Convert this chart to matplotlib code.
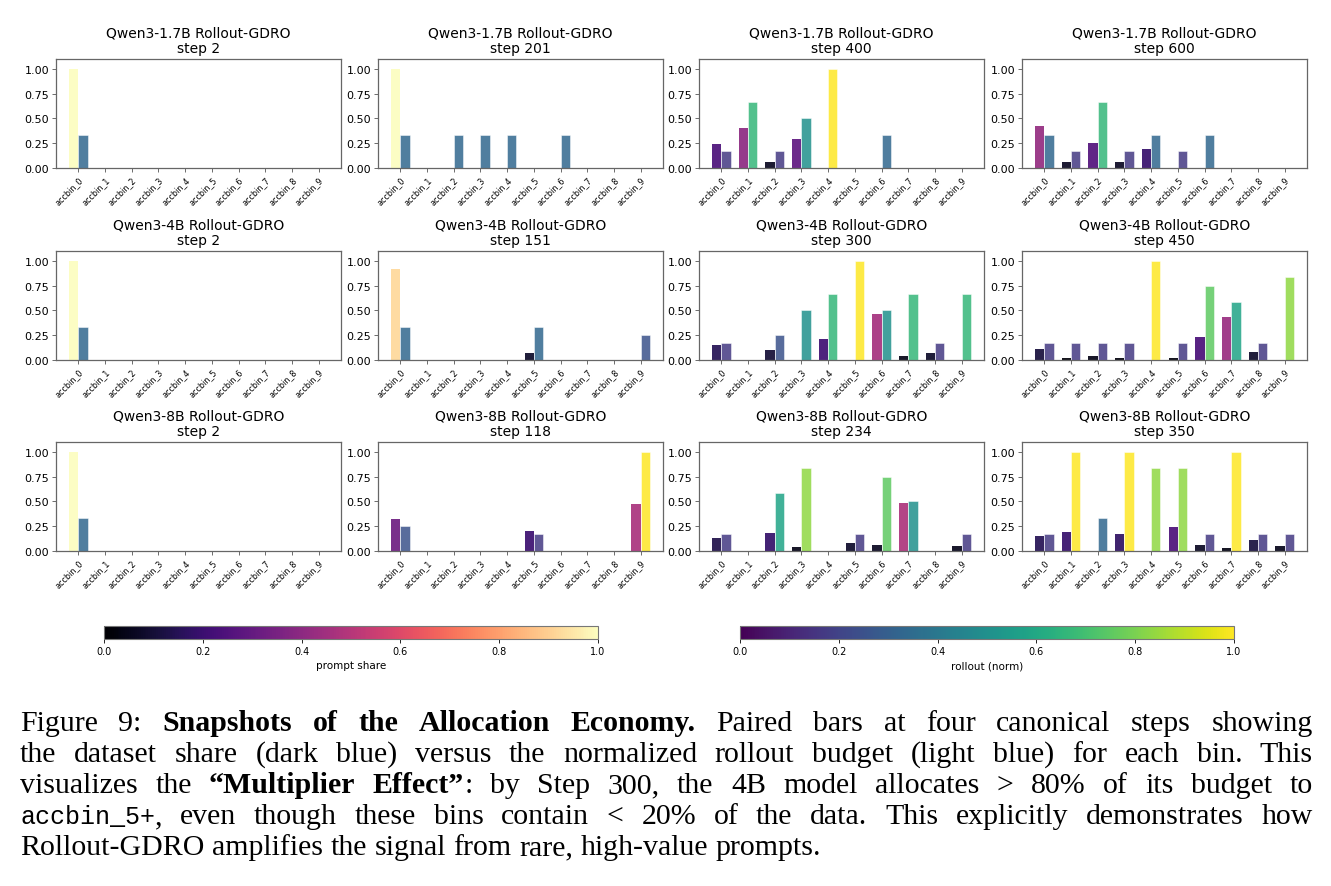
import numpy as np
import matplotlib
matplotlib.use("Agg")
import matplotlib.pyplot as plt
from matplotlib import cm
from matplotlib.colors import Normalize

# ---------------- data ----------------
bins = [f"accbin_{i}" for i in range(10)]
models = ["Qwen3-1.7B", "Qwen3-4B", "Qwen3-8B"]
steps = [[2, 201, 400, 600], [2, 151, 300, 450], [2, 118, 234, 350]]

prompt_17b_s2 = [1.0, 0, 0, 0, 0, 0, 0, 0, 0, 0]
rollout_17b_s2 = [0.333, 0, 0, 0, 0, 0, 0, 0, 0, 0]
prompt_17b_s201 = [1.0, 0, 0, 0, 0, 0, 0.005, 0, 0, 0]
rollout_17b_s201 = [0.333, 0, 0.333, 0.333, 0.333, 0, 0.333, 0, 0, 0]
prompt_17b_s400 = [0.24, 0.40, 0.06, 0.29, 0.005, 0, 0.005, 0, 0, 0]
rollout_17b_s400 = [0.167, 0.667, 0.167, 0.5, 1.0, 0, 0.333, 0, 0, 0]
prompt_17b_s600 = [0.42, 0.065, 0.255, 0.065, 0.19, 0, 0.005, 0, 0, 0]
rollout_17b_s600 = [0.333, 0.167, 0.667, 0.167, 0.333, 0.167, 0.333, 0, 0, 0]

prompt_4b_s2 = [1.0, 0, 0, 0, 0, 0, 0, 0, 0, 0]
rollout_4b_s2 = [0.333, 0, 0, 0, 0, 0, 0, 0, 0, 0]
prompt_4b_s151 = [0.92, 0, 0, 0, 0, 0.075, 0, 0, 0, 0.005]
rollout_4b_s151 = [0.333, 0, 0, 0, 0, 0.333, 0, 0, 0, 0.25]
prompt_4b_s300 = [0.15, 0, 0.10, 0.005, 0.21, 0.005, 0.46, 0.045, 0.075, 0.003]
rollout_4b_s300 = [0.167, 0, 0.25, 0.5, 0.667, 1.0, 0.5, 0.667, 0.167, 0.667]
prompt_4b_s450 = [0.11, 0.02, 0.04, 0.025, 0.005, 0.025, 0.235, 0.43, 0.08, 0.005]
rollout_4b_s450 = [0.167, 0.167, 0.167, 0.167, 1.0, 0.167, 0.75, 0.583, 0.167, 0.833]

prompt_8b_s2 = [1.0, 0, 0, 0, 0, 0, 0, 0, 0, 0]
rollout_8b_s2 = [0.333, 0, 0, 0, 0, 0, 0, 0, 0, 0]
prompt_8b_s118 = [0.325, 0, 0, 0, 0, 0.2, 0, 0, 0, 0.47]
rollout_8b_s118 = [0.25, 0, 0, 0, 0, 0.167, 0, 0, 0, 1.0]
prompt_8b_s234 = [0.135, 0, 0.185, 0.04, 0, 0.08, 0.06, 0.48, 0, 0.05]
rollout_8b_s234 = [0.167, 0, 0.583, 0.833, 0, 0.167, 0.75, 0.5, 0, 0.167]
prompt_8b_s350 = [0.15, 0.19, 0, 0.175, 0.005, 0.24, 0.065, 0.035, 0.115, 0.05]
rollout_8b_s350 = [0.167, 1.0, 0.333, 1.0, 0.833, 0.833, 0.167, 1.0, 0.167, 0.167]

prompt_grid = [
    [prompt_17b_s2, prompt_17b_s201, prompt_17b_s400, prompt_17b_s600],
    [prompt_4b_s2, prompt_4b_s151, prompt_4b_s300, prompt_4b_s450],
    [prompt_8b_s2, prompt_8b_s118, prompt_8b_s234, prompt_8b_s350],
]
rollout_grid = [
    [rollout_17b_s2, rollout_17b_s201, rollout_17b_s400, rollout_17b_s600],
    [rollout_4b_s2, rollout_4b_s151, rollout_4b_s300, rollout_4b_s450],
    [rollout_8b_s2, rollout_8b_s118, rollout_8b_s234, rollout_8b_s350],
]

# ---------------- figure ----------------
W, H = 1331, 887
fig = plt.figure(figsize=(W / 100, H / 100), dpi=100)
fig.patch.set_facecolor("white")

lefts = [56, 378, 699, 1022]
tops = [60, 252, 443]
aw, ah = 285, 109
magma = plt.get_cmap("magma")
viridis = plt.get_cmap("viridis")
x = np.arange(len(bins))
bw = 0.35

for r in range(3):
    for c in range(4):
        ax = fig.add_axes([lefts[c] / W, 1 - (tops[r] + ah) / H, aw / W, ah / H])
        p = np.array(prompt_grid[r][c])
        ro = np.array(rollout_grid[r][c])
        ax.bar(x - bw / 2, p, width=bw, color=magma(p), alpha=0.92)
        ax.bar(x + bw / 2, ro, width=bw, color=viridis(ro), alpha=0.85,
               edgecolor="white", linewidth=0.4)
        ax.set_ylim(0, 1.1)
        ax.set_yticks([0, 0.25, 0.5, 0.75, 1.0])
        ax.set_yticklabels(["0.00", "0.25", "0.50", "0.75", "1.00"], fontsize=8)
        ax.set_xticks(x)
        ax.set_xticklabels(bins, rotation=45, ha="right", fontsize=5.8,
                           rotation_mode="anchor")
        ax.tick_params(axis="x", length=3, width=0.6, pad=2, color="#555555")
        ax.tick_params(axis="y", length=3, width=0.6, pad=2, color="#555555")
        for s in ax.spines.values():
            s.set_color("#666666")
            s.set_linewidth(0.9)
        ax.set_title(f"{models[r]} Rollout-GDRO\nstep {steps[r][c]}",
                     fontsize=10, pad=5, linespacing=1.1)

# colorbars
norm = Normalize(0, 1)
cax1 = fig.add_axes([104 / W, 1 - 640 / H, 494 / W, 13 / H])
cb1 = fig.colorbar(cm.ScalarMappable(norm=norm, cmap=magma), cax=cax1,
                   orientation="horizontal")
cb1.set_label("prompt share", fontsize=7.5, labelpad=3)
cax2 = fig.add_axes([740 / W, 1 - 640 / H, 494 / W, 13 / H])
cb2 = fig.colorbar(cm.ScalarMappable(norm=norm, cmap=viridis), cax=cax2,
                   orientation="horizontal")
cb2.set_label("rollout (norm)", fontsize=7.5, labelpad=3)
for cb in (cb1, cb2):
    cb.set_ticks([0, 0.2, 0.4, 0.6, 0.8, 1.0])
    cb.ax.tick_params(labelsize=7, length=3, width=0.6, pad=2)
    cb.outline.set_edgecolor("#777777")
    cb.outline.set_linewidth(0.8)

# ---------------- caption (justified) ----------------
SERIF = "Liberation Serif"
MONO = "Liberation Mono"

cap_lines = [
    [[("Figure", "r")], [("9:", "r")], [("Snapshots", "b")], [("of", "b")], [("the", "b")],
     [("Allocation", "b")], [("Economy.", "b")], [("Paired", "r")], [("bars", "r")], [("at", "r")],
     [("four", "r")], [("canonical", "r")], [("steps", "r")], [("showing", "r")]],
    [[(w, "r")] for w in "the dataset share (dark blue) versus the normalized rollout budget (light blue) for each bin. This".split()],
    [[("visualizes", "r")], [("the", "r")], [("\u201cMultiplier", "b")],
     [("Effect\u201d", "b"), (":", "r")]] +
    [[(w, "r")] for w in "by Step 300, the 4B model allocates > 80% of its budget to".split()],
    [[("accbin_5+", "t"), (",", "r")]] +
    [[(w, "r")] for w in "even though these bins contain < 20% of the data. This explicitly demonstrates how".split()],
    [[(w, "r")] for w in "Rollout-GDRO amplifies the signal from rare, high-value prompts.".split()],
]
baselines = [731, 762, 793, 824, 855]
x0, x1 = 20, 1313

renderer = fig.canvas.get_renderer()

def make_styles(fs):
    return {
        "r": dict(family=SERIF, weight="normal", size=fs),
        "b": dict(family=SERIF, weight="bold", size=fs),
        "t": dict(family=MONO, weight="normal", size=18),
    }

def frag_width(txt, st, styles):
    t = fig.text(0, 0, txt, **styles[st])
    w = t.get_window_extent(renderer).width
    t.remove()
    return w

def line_natural(line, styles):
    sw = frag_width("a a", "r", styles) - frag_width("aa", "r", styles)
    tot = sum(frag_width(t, s, styles) for wd in line for t, s in wd)
    return tot, sw

# choose size so the last (unjustified) line spans ~810 px like the reference
FS = 20.0
tot, sw = line_natural(cap_lines[-1], make_styles(FS))
FS = FS * 800.0 / (tot + sw * (len(cap_lines[-1]) - 1))
# make sure every justified line still fits
for ln in cap_lines[:-1]:
    st = make_styles(FS)
    tot, sw = line_natural(ln, st)
    need = tot + 0.7 * sw * (len(ln) - 1)
    if need > (x1 - x0):
        FS *= (x1 - x0) / need
styles = make_styles(FS)
space_w = frag_width("a a", "r", styles) - frag_width("aa", "r", styles)

for li, line in enumerate(cap_lines):
    widths = [[frag_width(t, s, styles) for t, s in wd] for wd in line]
    total = sum(sum(w) for w in widths)
    n = len(line)
    last = li == len(cap_lines) - 1
    gap = space_w if last else (x1 - x0 - total) / (n - 1)
    xp = x0
    yb = 1 - baselines[li] / H
    for wd, ws in zip(line, widths):
        for (t, s), w in zip(wd, ws):
            fig.text(xp / W, yb, t, va="baseline", ha="left", **styles[s])
            xp += w
        xp += gap

fig.savefig("out.png", dpi=100, facecolor="white")
